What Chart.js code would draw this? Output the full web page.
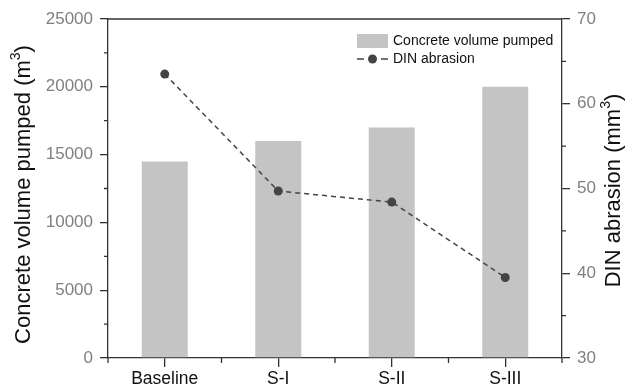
<!DOCTYPE html>
<html>
<head>
<meta charset="utf-8">
<script src="https://cdn.jsdelivr.net/npm/chart.js@4.4.1/dist/chart.umd.min.js"></script>
<style>
  html, body { margin: 0; padding: 0; background: #fff; }
  #wrap { position: relative; width: 625px; height: 390px; }
</style>
</head>
<body>
<div id="wrap"><canvas id="chart" width="625" height="390"></canvas></div>
<script>
const categories = ['Baseline', 'S-I', 'S-II', 'S-III'];
const volumePumped = [14500, 16000, 17000, 20000];
const dinAbrasion = [63.5, 49.7, 48.4, 39.5];
const volumeMinorTicks = [2500, 7500, 12500, 17500, 22500];
const abrasionMinorTicks = [35, 45, 55, 65];

const FONT = '"Liberation Sans", Arial, sans-serif';
const AXIS = '#333';
const BAR = '#c4c4c4';
const LINE = '#444';

// frame, minor ticks, axis titles and legend
const extras = {
  id: 'extras',
  afterDraw(chart) {
    const { ctx, chartArea: a, scales } = chart;
    ctx.save();
    ctx.strokeStyle = AXIS;
    ctx.lineWidth = 1.3;

    ctx.beginPath();
    ctx.moveTo(a.left, a.top);
    ctx.lineTo(a.right, a.top);
    ctx.stroke();

    ctx.beginPath();
    volumeMinorTicks.forEach(v => {
      const y = scales.y.getPixelForValue(v);
      ctx.moveTo(a.left - 4, y); ctx.lineTo(a.left, y);
    });
    abrasionMinorTicks.forEach(v => {
      const y = scales.y1.getPixelForValue(v);
      ctx.moveTo(a.right, y); ctx.lineTo(a.right + 4, y);
    });
    const half = (scales.x.getPixelForValue(1) - scales.x.getPixelForValue(0)) / 2;
    for (let i = 0; i <= categories.length; i++) {
      const x = scales.x.getPixelForValue(i) - half;
      ctx.moveTo(x, a.bottom); ctx.lineTo(x, a.bottom + 5);
    }
    ctx.stroke();

    // axis titles, both reading bottom to top
    const midY = (a.top + a.bottom) / 2;
    drawTitle(ctx, 'Concrete volume pumped (m', ')', 24, midY + 6);
    drawTitle(ctx, 'DIN abrasion (mm', ')', 614, midY + 2);

    // legend
    ctx.fillStyle = BAR;
    ctx.fillRect(357, 34, 31, 14);
    ctx.fillStyle = '#111';
    ctx.font = '14px ' + FONT;
    ctx.textBaseline = 'middle';
    ctx.textAlign = 'left';
    ctx.fillText('Concrete volume pumped', 393, 41.5);
    ctx.fillText('DIN abrasion', 393, 59.5);
    ctx.strokeStyle = LINE;
    ctx.lineWidth = 1.5;
    ctx.beginPath();
    ctx.moveTo(357, 59); ctx.lineTo(364, 59);
    ctx.moveTo(381, 59); ctx.lineTo(388, 59);
    ctx.stroke();
    ctx.fillStyle = LINE;
    ctx.beginPath();
    ctx.arc(372.5, 59, 4.5, 0, Math.PI * 2);
    ctx.fill();
    ctx.restore();
  }
};

function drawTitle(ctx, main, tail, x, cy) {
  ctx.save();
  ctx.fillStyle = '#111';
  ctx.textBaseline = 'middle';
  ctx.textAlign = 'left';
  ctx.font = '22px ' + FONT;
  const w1 = ctx.measureText(main).width;
  ctx.font = '14px ' + FONT;
  const ws = ctx.measureText('3').width;
  ctx.font = '22px ' + FONT;
  const w2 = ctx.measureText(tail).width;
  const total = w1 + ws + w2;
  ctx.translate(x, cy);
  ctx.rotate(-Math.PI / 2);
  let cx = -total / 2;
  ctx.fillText(main, cx, 0);
  cx += w1;
  ctx.font = '14px ' + FONT;
  ctx.fillText('3', cx, -8);
  cx += ws;
  ctx.font = '22px ' + FONT;
  ctx.fillText(tail, cx, 0);
  ctx.restore();
}

new Chart(document.getElementById('chart'), {
  data: {
    labels: categories,
    datasets: [
      {
        type: 'line',
        label: 'DIN abrasion',
        data: dinAbrasion,
        yAxisID: 'y1',
        order: 0,
        borderColor: LINE,
        borderWidth: 1.5,
        borderDash: [5, 4],
        pointRadius: 4.5,
        pointBackgroundColor: LINE,
        pointBorderWidth: 0,
        tension: 0,
        fill: false
      },
      {
        type: 'bar',
        label: 'Concrete volume pumped',
        data: volumePumped,
        yAxisID: 'y',
        order: 1,
        backgroundColor: BAR,
        barPercentage: 0.405,
        categoryPercentage: 1
      }
    ]
  },
  options: {
    responsive: false,
    animation: false,
    layout: { padding: { top: 19, left: 0, right: 0, bottom: 0 } },
    plugins: { legend: { display: false }, tooltip: { enabled: false } },
    scales: {
      x: {
        offset: true,
        grid: { display: true, offset: false, drawOnChartArea: false, tickLength: 9, color: AXIS, lineWidth: 1.3 },
        border: { display: true, color: AXIS, width: 1.3 },
        ticks: { color: '#111', font: { family: FONT, size: 17.5 }, padding: 2, maxRotation: 0 },
        afterFit(s) { s.height = 32; }
      },
      y: {
        position: 'left',
        min: 0,
        max: 25000,
        grid: { display: true, drawOnChartArea: false, tickLength: 8, color: AXIS, lineWidth: 1.3 },
        border: { display: true, color: AXIS, width: 1.3 },
        ticks: { stepSize: 5000, color: '#808080', font: { family: FONT, size: 17 }, padding: 7, callback: v => String(v) },
        afterFit(s) { s.width = 108; }
      },
      y1: {
        position: 'right',
        min: 30,
        max: 70,
        grid: { display: true, drawOnChartArea: false, tickLength: 8, color: AXIS, lineWidth: 1.3 },
        border: { display: true, color: AXIS, width: 1.3 },
        ticks: { stepSize: 10, color: '#808080', font: { family: FONT, size: 17 }, padding: 7, callback: v => String(v) },
        afterFit(s) { s.width = 63; }
      }
    }
  },
  plugins: [extras]
});
</script>
</body>
</html>
